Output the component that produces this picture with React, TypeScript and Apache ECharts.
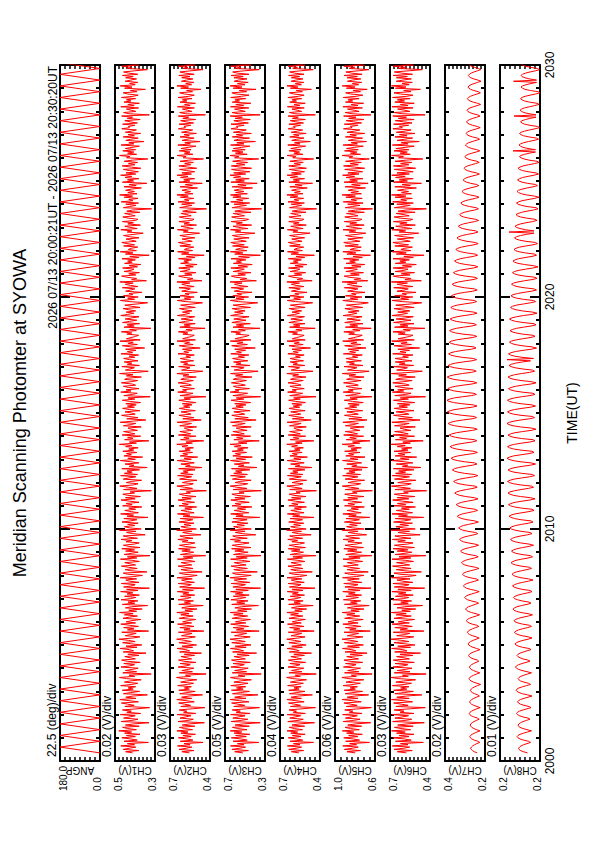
import React, { useEffect, useRef } from "react";
import * as echarts from "echarts";

// ---------- texts ----------
const titleText = "Meridian Scanning Photomter at SYOWA";
const periodText = "2026 07/13 20:00:21UT - 2026 07/13 20:30:20UT";
const timeAxisName = "TIME(UT)";
const timeTickLabels = ["2000", "2010", "2020", "2030"];
const channelNames = ["ANGP", "CH1(V)", "CH2(V)", "CH3(V)", "CH4(V)", "CH5(V)", "CH6(V)", "CH7(V)", "CH8(V)"];
const scaleLabels = [
  "22.5 (deg)/div", "0.02 (V)/div", "0.03 (V)/div", "0.05 (V)/div", "0.04 (V)/div",
  "0.06 (V)/div", "0.03 (V)/div", "0.02 (V)/div", "0.01 (V)/div",
];
const maxLabels = ["180.0", "0.5", "0.7", "0.7", "0.7", "1.0", "0.7", "0.4", "0.2"];
const minLabels = ["0.0", "0.3", "0.4", "0.3", "0.4", "0.6", "0.4", "0.2", "0.2"];

// ---------- value axes ----------
const axisMin = [0, 0.3, 0.42, 0.3, 0.4, 0.6, 0.42, 0.2, 0.16];
const axisMax = [180, 0.5, 0.72, 0.7, 0.72, 1.02, 0.72, 0.4, 0.24];
const axisDiv = [22.5, 0.02, 0.03, 0.05, 0.04, 0.06, 0.03, 0.02, 0.01];

// time axis (seconds after 20:00:00 UT)
const timeMin = 0;
const timeMax = 1800;
const timeMajor = 600;

// ---------- data ----------
// scan angle turning points (s after 20:00:00, deg)
const angpTimes = [
  21, 36, 51, 66, 81, 96, 111, 126, 141, 156, 171, 186, 201, 216, 231, 246, 261, 276, 291, 306,
  321, 336, 351, 366, 381, 396, 411, 426, 441, 456, 471, 486, 501, 516, 531, 546, 561, 576, 591, 606,
  621, 636, 651, 666, 681, 696, 711, 726, 741, 756, 771, 786, 801, 816, 831, 846, 861, 876, 891, 906,
  921, 936, 951, 966, 981, 996, 1011, 1026, 1041, 1056, 1071, 1086, 1101, 1116, 1131, 1146, 1161, 1176, 1191, 1206,
  1221, 1236, 1251, 1266, 1281, 1296, 1311, 1326, 1341, 1356, 1371, 1386, 1401, 1416, 1431, 1446, 1461, 1476, 1491, 1506,
  1521, 1536, 1551, 1566, 1581, 1596, 1611, 1626, 1641, 1656, 1671, 1686, 1701, 1716, 1731, 1746, 1761, 1776, 1791, 1806,
  1821,
];
const angpValues = [
  0, 180, 0, 180, 0, 180, 0, 180, 0, 180, 0, 180, 0, 180, 0, 180, 0, 180, 0, 180,
  0, 180, 0, 180, 0, 180, 0, 180, 0, 180, 0, 180, 0, 180, 0, 180, 0, 180, 0, 180,
  0, 180, 0, 180, 0, 180, 0, 180, 0, 180, 0, 180, 0, 180, 0, 180, 0, 180, 0, 180,
  0, 180, 0, 180, 0, 180, 0, 180, 0, 180, 0, 180, 0, 180, 0, 180, 0, 180, 0, 180,
  0, 180, 0, 180, 0, 180, 0, 180, 0, 180, 0, 180, 0, 180, 0, 180, 0, 180, 0, 180,
  0, 180, 0, 180, 0, 180, 0, 180, 0, 180, 0, 180, 0, 180, 0, 180, 0, 180, 0, 180,
  0,
];

// photometer channels, mV; first sample at SAMPLE_START s, then one every SAMPLE_STEP s
const SAMPLE_START = 21;
const SAMPLE_STEP = 3;

const ch1 = [
  412,447,381,459,428,396,471,402,438,333,455,389,421,466,398,443,375,452,417,481,
  393,436,462,379,448,407,330,469,414,385,457,426,399,474,372,441,418,463,390,327,
  451,404,437,468,383,429,476,395,446,410,338,458,421,377,464,409,435,397,472,416,
  386,453,425,369,442,478,401,430,319,461,392,448,413,384,470,427,402,456,374,439,
  467,398,424,451,381,436,345,459,407,428,475,390,445,366,418,462,399,433,480,412,
  376,449,421,394,466,332,438,405,457,383,426,471,397,444,415,371,460,429,388,453,
  409,477,392,431,364,448,418,337,463,401,435,386,469,423,396,452,378,440,411,472,
  385,442,328,457,415,399,468,380,427,446,392,474,406,363,437,459,341,421,450,389,
  433,468,397,425,451,378,414,473,391,438,325,455,419,384,447,402,466,375,430,458,
  404,379,445,416,470,388,432,459,349,411,442,396,478,369,428,453,401,437,384,465,
  422,391,456,335,440,407,472,383,419,451,397,431,366,462,414,445,380,427,470,399,
  448,373,436,461,402,425,318,457,390,433,476,408,385,444,419,367,459,431,396,472,
  387,453,414,440,377,466,339,429,405,450,381,422,474,398,436,362,455,418,443,391,
  461,406,431,384,447,415,478,393,428,331,452,410,437,372,464,401,426,457,388,419,
  435,369,458,423,396,474,408,346,441,385,432,467,399,418,450,376,429,462,403,438,
  394,446,372,427,463,401,435,324,456,413,389,471,420,445,380,432,458,397,414,468,
  419,387,452,436,368,443,410,477,391,334,448,425,403,466,378,439,416,454,385,427,
  457,401,429,382,470,412,438,395,447,352,421,463,388,434,409,475,374,443,420,398,
  382,441,416,468,393,427,321,455,404,439,377,462,428,391,449,415,380,471,436,406,
  444,397,431,460,375,418,451,389,337,426,473,402,437,384,458,411,430,366,447,423,
  401,463,386,422,449,409,476,343,417,392,440,467,396,431,378,455,420,405,462,388,
  429,371,452,414,437,398,465,381,426,329,448,410,474,393,433,418,386,457,402,440,
  466,394,418,445,380,428,457,406,359,439,415,471,389,424,451,373,436,408,463,397,
  386,434,461,399,423,452,376,441,413,317,458,427,395,446,382,469,411,431,385,454,
  412,477,390,436,403,447,420,368,455,394,429,341,463,407,438,381,450,416,472,396,
  445,383,428,458,371,419,464,400,433,387,454,413,336,442,425,477,392,437,406,461,
  397,449,415,378,470,406,431,355,446,421,384,459,403,435,372,448,418,393,466,427,
  433,401,462,388,425,451,374,439,412,467,328,430,457,396,419,443,382,471,404,436,
  378,455,420,443,397,468,410,384,436,459,391,423,348,452,415,474,399,427,386,449,
  421,392,447,409,463,386,432,457,401,338,440,418,466,380,429,451,407,435,393,460,
];
const ch2 = [
  574,631,540,652,597,556,664,569,615,472,643,548,590,657,561,623,529,638,585,668,
  551,612,649,534,628,571,462,660,582,545,645,602,563,666,527,618,594,651,553,458,
  639,566,610,655,538,600,669,557,633,578,476,647,592,531,654,575,612,560,662,589,
  543,640,596,519,620,671,565,604,449,650,552,631,583,541,659,599,568,644,526,617,
  656,558,595,637,536,613,484,648,573,601,667,550,629,521,588,653,560,607,670,581,
  530,634,590,555,657,466,615,569,646,540,598,663,558,625,584,527,651,604,546,639,
  577,669,551,608,518,632,590,471,654,566,612,544,660,596,562,641,535,624,579,665,
  545,626,461,648,586,560,658,537,601,633,553,667,570,516,617,650,479,591,637,547,
  611,659,557,597,636,533,584,664,549,620,453,642,588,542,631,568,656,528,606,649,
  572,534,628,585,661,548,614,646,488,579,625,556,670,522,600,638,563,615,540,653,
  593,549,643,469,622,571,664,539,589,636,557,609,520,652,583,629,536,603,660,561,
  630,525,612,650,566,598,447,645,551,611,668,574,545,627,590,518,648,606,558,663,
  547,640,584,621,532,655,480,604,569,638,538,594,666,560,614,512,643,588,624,551,
  651,568,608,544,630,586,669,552,601,467,641,577,616,526,657,565,599,646,550,592,
  613,521,647,596,559,666,575,486,624,541,607,653,562,588,637,530,603,650,571,618,
  555,628,527,602,654,566,615,451,645,584,548,662,596,626,537,607,644,560,583,659,
  596,545,639,614,523,622,578,668,552,474,633,597,570,655,533,618,587,641,543,605,
  642,566,601,538,660,581,616,557,627,494,599,651,546,610,573,667,529,625,595,558,
  538,623,586,657,554,599,457,646,568,615,531,652,604,549,636,581,535,664,608,572,
  627,556,611,649,530,590,640,548,476,601,665,563,613,539,645,577,606,515,632,594,
  567,652,539,596,632,571,668,481,589,549,619,655,555,610,526,643,592,569,654,545,
  604,517,640,581,616,558,656,534,597,464,634,578,663,551,612,588,541,646,566,622,
  657,553,588,629,534,602,646,569,498,620,583,664,545,597,637,521,615,574,653,557,
  540,613,650,561,594,638,523,625,580,446,647,601,555,633,536,659,578,611,542,642,
  583,668,548,609,566,630,590,513,644,552,605,478,652,571,617,535,641,585,666,559,
  631,535,597,648,520,587,653,565,610,545,644,578,469,621,599,667,548,612,570,650,
  562,637,584,526,661,567,609,495,629,592,539,645,575,615,522,633,586,550,657,603,
  615,564,652,543,599,640,528,624,580,658,455,605,647,556,588,627,537,664,569,611,
  529,645,593,627,555,660,579,538,612,648,551,596,487,640,581,668,558,602,541,634,
  598,548,632,570,654,539,606,646,563,472,621,585,657,530,607,639,567,616,552,649,
];
const ch3 = [
  521,603,466,631,552,494,645,509,575,362,619,478,540,637,487,594,452,610,533,648,
  481,573,626,457,600,515,348,640,538,472,622,563,499,644,449,590,547,628,486,355,
  612,503,571,634,461,556,649,490,603,526,371,625,544,455,636,518,585,493,642,537,
  470,611,549,436,593,647,501,568,338,628,485,604,530,468,641,557,507,620,447,582,
  635,496,552,609,458,579,384,624,514,561,646,488,598,440,535,632,497,566,650,524,
  448,605,541,483,638,359,586,511,619,464,550,643,492,596,529,445,627,569,474,613,
  519,648,480,574,435,601,536,366,633,502,583,470,640,555,491,617,459,597,523,645,
  467,592,345,621,546,495,637,453,570,608,484,649,527,438,589,625,377,542,612,476,
  579,639,489,559,607,450,532,644,478,588,341,615,548,469,601,512,634,441,571,627,
  525,460,604,545,647,477,586,623,392,528,597,499,650,437,562,614,505,580,471,631,
  553,479,618,353,591,518,643,462,538,609,494,576,432,630,543,598,458,565,641,500,
  601,446,583,631,509,560,336,620,481,582,648,526,473,599,551,439,626,572,496,644,
  476,613,532,594,452,635,380,567,510,607,456,551,646,493,589,427,622,545,597,484,
  629,516,575,469,606,540,649,480,566,358,611,520,584,444,638,507,555,621,479,548,
  588,438,625,557,498,645,529,389,602,467,571,632,503,547,612,449,564,627,517,590,
  491,603,443,566,639,512,587,343,621,536,474,648,560,600,455,577,616,497,544,636,
  557,486,619,581,430,595,523,645,478,369,609,552,509,637,451,591,540,614,472,568,
  624,505,567,462,642,536,584,494,603,397,559,633,476,578,521,647,441,599,556,488,
  459,592,545,640,497,564,351,620,514,587,447,631,569,490,612,538,460,644,580,519,
  604,499,576,628,445,550,619,483,373,566,646,511,590,464,622,534,581,431,607,561,
  513,638,471,561,606,529,649,386,549,482,595,636,496,571,441,617,552,507,641,475,
  569,428,616,535,586,492,640,456,564,346,603,521,647,481,593,548,468,624,507,598,
  642,487,547,612,459,578,626,518,402,597,541,645,470,563,620,434,587,526,639,497,
  464,583,633,505,558,618,440,601,531,334,627,566,486,610,453,643,522,584,463,621,
  540,646,476,594,512,608,555,425,628,489,572,378,641,506,593,458,615,544,650,493,
  613,451,573,635,435,548,637,501,586,474,624,539,363,604,560,647,478,596,520,630,
  498,619,533,452,644,510,582,396,610,565,455,627,524,588,437,616,543,487,639,571,
  585,509,640,466,562,612,447,599,527,648,349,569,630,497,551,604,462,645,513,592,
  442,627,555,601,493,643,536,460,589,631,484,558,390,618,530,649,500,575,468,608,
  566,480,610,518,639,461,578,623,507,357,600,545,642,439,587,621,515,594,482,634,
];
const ch4 = [
  569,629,531,650,591,547,661,560,612,452,640,538,585,654,553,621,519,634,579,664,
  540,606,646,523,624,564,444,658,576,534,642,598,555,663,517,614,588,648,544,436,
  636,556,604,652,527,593,665,549,631,571,461,644,586,520,650,567,608,551,659,582,
  533,637,590,508,617,667,557,598,430,647,545,628,577,530,656,594,560,641,515,611,
  653,548,589,633,525,609,468,645,566,596,664,541,626,511,581,649,552,603,666,575,
  519,631,584,546,654,447,611,562,643,529,592,660,550,622,578,517,648,600,537,635,
  572,665,542,602,507,628,583,455,651,557,608,535,657,591,554,638,524,621,573,662,
  536,623,441,645,580,552,655,526,597,630,545,664,562,505,612,647,462,586,634,538,
  606,656,549,591,632,522,578,661,540,617,433,639,582,532,628,560,653,516,601,646,
  564,524,625,579,658,539,609,643,471,573,622,548,667,511,594,635,555,611,530,650,
  587,540,640,449,619,563,661,528,583,633,549,605,509,649,576,626,525,598,657,553,
  627,513,608,647,558,592,428,642,543,606,665,567,536,624,584,507,645,601,550,660,
  537,637,577,618,521,652,465,599,561,635,527,588,663,552,610,501,640,582,621,543,
  648,559,603,533,627,580,666,543,596,450,638,570,613,515,654,557,593,643,541,587,
  609,510,644,590,551,663,568,470,621,530,602,650,554,582,634,519,598,647,563,614,
  546,625,516,597,651,558,611,432,642,578,539,659,590,623,526,602,641,552,577,656,
  591,534,636,609,512,619,571,665,543,457,630,592,563,652,522,615,581,638,532,600,
  639,557,596,527,657,574,613,548,624,476,594,648,535,606,566,664,518,622,589,549,
  527,620,580,654,545,593,439,643,560,612,520,649,599,540,633,575,524,661,603,564,
  624,547,606,646,519,584,637,538,459,596,662,555,610,528,642,571,601,504,629,588,
  558,649,528,591,629,564,665,463,583,539,616,652,546,605,515,640,586,561,651,535,
  600,506,637,575,613,549,653,523,592,445,631,572,660,541,608,583,530,643,558,619,
  654,544,582,626,523,597,643,561,481,617,577,661,535,592,634,510,612,567,650,548,
  529,610,647,552,588,635,512,622,574,427,644,596,546,630,525,656,572,606,531,639,
  577,665,537,604,558,627,585,502,641,543,600,460,649,564,614,524,638,580,663,550,
  628,524,592,645,509,581,650,556,607,534,641,573,451,618,594,664,537,609,563,647,
  553,634,579,515,658,560,604,477,626,587,528,642,568,612,511,630,581,539,654,598,
  612,555,649,532,594,637,517,621,574,655,437,600,644,547,583,624,526,661,561,608,
  518,642,588,624,546,657,573,527,609,645,541,591,469,637,576,665,549,597,530,631,
  594,537,629,563,651,528,603,643,555,454,618,580,654,519,604,636,559,613,542,646,
];
const ch5 = [
  807,894,752,922,838,776,938,793,866,658,908,762,830,928,781,877,733,898,822,943,
  765,859,915,740,886,801,645,934,826,757,911,848,786,940,736,870,833,918,769,638,
  901,787,855,926,745,842,945,779,892,811,667,913,832,730,924,806,861,784,936,828,
  753,905,838,718,874,947,795,848,630,920,770,887,816,752,931,844,799,909,729,865,
  926,772,836,897,733,861,683,914,802,843,942,764,889,722,820,922,779,852,946,814,
  727,892,829,771,925,650,867,798,910,748,834,937,777,883,818,724,919,851,760,896,
  811,944,765,853,716,890,826,661,921,787,857,750,932,840,773,905,741,879,808,938,
  757,882,642,916,819,779,928,739,844,888,765,940,795,718,866,918,671,828,893,762,
  864,931,775,838,891,730,815,936,756,875,634,907,822,741,888,790,927,721,851,915,
  799,738,884,818,935,762,863,908,688,805,880,778,947,713,839,898,786,867,747,921,
  831,764,904,655,876,796,937,745,820,893,774,850,712,920,815,884,740,845,932,782,
  886,717,857,918,788,837,628,911,770,855,944,801,750,882,827,709,914,846,780,939,
  752,899,810,873,736,925,679,844,791,896,741,829,940,778,861,705,907,824,878,759,
  919,789,852,744,884,816,945,760,836,653,902,797,865,720,929,783,833,912,758,820,
  860,714,911,834,774,937,800,685,874,740,845,921,776,822,895,729,840,917,792,868,
  766,883,723,838,923,786,862,633,908,812,753,934,829,880,737,846,904,775,817,930,
  832,746,898,863,715,872,803,944,762,662,889,833,790,925,727,869,816,901,743,842,
  905,782,837,734,932,805,866,771,883,694,831,919,748,853,791,939,720,879,826,768,
  734,876,815,927,759,834,640,911,781,864,726,918,840,754,894,807,736,935,848,790,
  881,767,853,916,729,821,901,749,670,836,938,780,861,737,910,799,846,705,887,830,
  780,922,737,833,890,788,946,676,818,751,872,924,765,857,721,906,828,785,926,747,
  844,708,904,806,866,770,929,733,831,648,895,801,937,753,862,817,744,914,775,876,
  928,757,817,885,728,840,910,788,697,871,803,936,740,834,902,714,865,792,923,764,
  738,856,917,778,825,899,712,880,802,626,912,838,759,887,725,933,794,851,734,906,
  806,945,742,853,773,882,828,700,913,755,845,672,925,784,866,726,904,814,940,768,
  885,731,822,918,709,817,930,776,861,744,909,803,660,872,834,946,752,858,790,920,
  775,899,814,723,935,784,849,690,880,829,731,911,796,863,708,893,816,759,931,840,
  858,778,923,741,826,902,717,876,800,929,643,842,913,767,818,889,732,937,781,851,
  720,910,834,884,767,933,799,728,855,908,752,829,682,901,809,944,772,838,739,890,
  838,749,893,785,926,736,847,906,775,663,871,812,927,712,846,897,781,860,761,916,
];
const ch6 = [
  597,665,553,690,618,572,703,585,641,470,679,561,612,695,578,651,540,671,606,708,
  566,638,687,546,662,592,463,700,603,557,683,628,581,706,541,645,615,689,569,455,
  676,584,635,693,551,622,709,576,669,597,481,684,613,545,692,594,640,578,702,609,
  559,676,617,528,654,711,583,627,449,688,570,665,604,555,698,622,586,682,538,643,
  695,574,616,671,549,645,491,685,593,624,708,566,662,533,607,690,579,633,712,600,
  542,670,611,571,696,466,644,589,684,553,620,704,575,658,605,536,689,628,561,674,
  598,710,567,632,527,667,610,476,693,583,639,558,700,619,580,679,546,657,600,706,
  561,661,460,688,607,577,698,549,625,668,570,709,588,524,646,690,485,614,673,562,
  636,701,573,619,671,544,604,705,564,653,451,680,609,556,666,586,696,537,631,687,
  590,547,662,605,702,563,641,683,494,599,660,573,712,531,622,676,581,646,552,693,
  613,565,681,468,656,589,705,551,609,672,575,634,529,690,602,664,547,626,700,579,
  666,534,640,688,583,618,445,683,567,637,709,593,561,662,611,526,686,630,574,703,
  558,678,603,655,541,694,488,627,587,673,549,614,707,577,642,520,681,608,658,566,
  690,585,633,555,665,606,711,567,624,471,679,596,648,536,697,583,620,685,563,613,
  645,530,686,618,576,706,594,495,657,552,630,693,579,609,674,540,626,688,589,652,
  571,664,535,626,694,582,643,453,684,604,562,702,617,662,547,631,682,576,603,699,
  619,554,677,639,531,655,597,709,567,478,670,620,589,696,543,651,607,680,555,628,
  682,582,625,548,700,600,645,573,661,498,621,690,559,637,591,707,538,659,616,572,
  548,658,606,697,568,620,459,686,585,644,540,693,627,563,674,601,545,704,632,588,
  662,571,636,690,539,610,677,560,482,624,705,580,640,549,685,597,629,525,668,614,
  583,692,549,617,667,589,710,485,608,562,650,695,570,635,536,681,613,585,696,558,
  627,523,680,601,646,574,697,545,616,466,673,598,703,564,638,609,552,684,581,657,
  698,568,606,665,543,621,686,586,505,652,603,706,556,619,677,530,647,592,694,572,
  550,644,689,576,613,675,532,660,599,447,687,624,568,669,545,700,596,639,553,682,
  601,709,559,633,581,664,610,522,684,567,629,484,693,589,651,546,678,606,707,575,
  668,546,615,687,528,605,694,579,640,557,682,598,474,656,619,708,568,645,590,690,
  578,676,602,538,702,584,636,501,667,612,550,683,592,649,533,672,606,562,698,627,
  650,580,693,555,618,680,539,658,596,699,457,628,688,571,608,663,547,705,585,642,
  538,684,611,665,569,701,594,548,641,690,563,617,492,679,600,709,576,630,553,673,
  623,560,672,590,696,551,633,687,578,477,657,604,698,541,636,679,586,647,565,692,
];
const ch7 = [
  239,253,263,269,272,268,262,252,241,226, 236,254,266,273,276,272,264,253,240,225,
  242,256,266,271,274,271,264,255,243,229, 238,256,269,276,279,275,267,255,241,224,
  240,257,268,274,277,273,266,256,243,228, 236,252,264,270,273,269,262,251,238,222,
  240,257,270,277,280,276,268,256,242,226, 243,258,269,275,278,274,268,257,245,231,
  238,258,271,279,282,278,270,257,242,225, 242,260,273,281,284,280,272,259,244,229,
  244,263,277,284,288,283,275,262,247,231, 241,264,280,289,293,288,278,262,244,227,
  245,268,284,293,297,292,282,266,249,232, 243,269,287,297,302,296,285,267,247,229,
  247,274,293,303,308,302,291,272,251,233, 244,275,296,307,313,306,293,272,249,230,
  248,279,301,312,318,311,298,277,253,234, 246,280,303,316,322,314,300,277,251,232,
  250,284,308,321,327,319,305,282,255,236, 247,285,311,325,332,323,308,282,253,233,
  251,290,316,331,338,329,313,287,257,237, 249,291,320,336,344,334,317,288,256,235,
  253,297,326,343,351,341,323,293,260,239, 250,298,330,348,357,346,327,294,258,236,
  254,303,335,354,363,352,332,299,262,240, 252,304,339,360,369,357,336,300,260,238,
  255,308,344,364,374,362,340,304,264,241, 253,309,347,369,379,366,343,305,262,239,
  256,313,352,374,384,371,348,309,265,242, 254,314,354,377,388,374,350,310,264,240,
  257,316,357,380,390,377,353,313,267,243, 255,313,353,375,386,373,349,310,265,241,
  258,316,356,378,389,376,352,313,268,244, 256,313,352,374,384,371,348,309,265,242,
  259,314,351,372,382,370,347,310,268,245, 255,310,348,369,379,367,344,306,264,241,
  257,310,347,367,377,365,343,307,266,243, 254,307,344,364,374,362,340,304,263,240,
  256,307,342,362,371,359,339,304,264,242, 253,304,339,359,368,356,336,301,261,239,
  252,302,336,355,364,353,332,298,260,238, 250,298,331,349,358,347,327,295,258,236,
  251,296,327,344,352,342,323,293,258,237, 248,292,321,338,346,336,318,289,255,234,
  249,290,317,333,340,331,314,287,255,235, 246,285,311,326,333,324,308,282,252,232,
  247,282,307,321,327,319,304,280,252,233, 244,278,302,315,321,313,299,276,249,230,
  245,276,297,309,315,308,295,274,250,231, 242,272,292,304,309,302,290,270,246,228,
  243,270,289,300,305,299,287,268,247,229, 240,267,285,296,301,295,284,265,244,226,
  241,266,283,293,298,292,282,264,245,227, 238,263,280,290,295,289,279,261,242,224,
  239,262,278,288,292,287,277,261,242,225, 236,260,276,286,290,285,275,258,239,222,
  237,259,275,284,288,283,273,258,240,223, 234,256,272,281,285,280,270,255,237,220,
  235,256,271,279,283,278,269,255,238,221, 233,254,269,277,281,276,267,253,236,219,
];
const ch8 = [
  185,193,199,202,203,201,198,193,186,179, 183,193,200,204,206,204,200,193,185,177,
  186,194,200,203,204,202,199,194,187,180, 184,194,201,205,207,205,201,194,186,178,
  182,192,199,203,205,203,199,192,184,176, 185,195,202,206,208,206,202,195,187,179,
  183,192,199,202,204,202,198,192,185,177, 186,196,203,207,209,207,203,196,188,180,
  184,194,200,204,206,204,200,193,186,178, 182,195,203,208,210,207,202,194,184,176,
  183,196,204,209,211,208,203,195,185,177, 181,195,204,210,212,209,203,194,183,175,
  184,198,207,212,214,211,206,197,186,178, 182,196,205,211,213,210,204,195,184,176,
  180,196,206,212,215,211,205,195,183,174, 183,198,208,213,216,213,207,197,186,177,
  181,198,209,215,218,214,208,197,184,175, 179,196,208,214,217,213,206,195,182,173,
  182,199,210,216,219,215,209,198,185,176, 180,198,210,217,220,216,209,197,183,174,
  178,198,211,218,222,218,210,196,182,172, 176,197,211,219,223,218,210,196,180,170,
  179,199,213,220,224,220,211,198,183,173, 177,199,213,221,225,220,212,197,181,171,
  175,197,212,220,224,219,210,196,179,169, 178,200,214,222,226,221,213,198,182,172,
  176,198,213,221,225,220,211,197,180,170, 174,197,212,220,224,219,210,195,178,168,
  177,199,214,222,226,221,212,198,181,171, 175,198,213,221,225,220,211,196,179,169,
  176,198,213,221,225,220,211,197,180,170, 174,196,211,219,223,218,209,195,178,168,
  177,198,212,220,224,219,211,197,181,171, 175,196,210,218,222,217,209,195,179,226,
  173,196,211,219,223,218,209,194,177,167, 176,196,210,217,221,217,208,195,180,170,
  174,195,208,216,220,215,207,193,178,168, 172,194,209,217,221,216,207,193,176,166,
  175,195,208,215,219,215,207,193,179,169, 173,193,207,214,218,214,205,192,177,167,
  172,192,206,213,217,213,204,191,176,166, 170,190,204,211,215,211,202,189,174,164,
  173,191,204,211,214,210,203,190,176,167, 171,189,202,209,212,208,201,188,174,165,
  169,188,201,208,211,207,199,187,172,222, 172,189,200,207,210,206,199,188,175,166,
  170,187,199,205,208,204,197,186,173,164, 168,186,197,204,207,203,196,184,171,162,
  171,187,197,203,206,203,196,186,174,165, 169,185,196,202,205,201,195,184,172,163,
  168,184,195,201,204,200,194,183,171,162, 166,182,192,198,201,198,191,181,169,214,
  169,184,194,199,202,199,193,183,172,163, 167,182,193,198,201,198,191,181,170,161,
  165,180,191,196,199,196,189,179,168,212, 168,182,192,197,200,197,191,181,171,162,
  166,181,191,196,199,196,190,180,169,160, 164,179,190,195,198,195,188,178,167,213,
  167,181,190,196,198,195,189,180,169,161, 165,179,189,195,197,194,188,178,168,159,
];
const channelValues = [ch1, ch2, ch3, ch4, ch5, ch6, ch7, ch8];

// ---------- layout ----------
const PANEL_LEFT = 60;
const PANEL_PITCH = 55;
const PANEL_WIDTH = 40;
const PANEL_TOP = 65;
const PANEL_HEIGHT = 696;
const FONT = '"Liberation Sans", Arial, Helvetica, sans-serif';
const RED = "#ff0000";

function textEl(x: number, y: number, rotation: number, text: string, size: number, align: string, vAlign = "middle") {
  return {
    type: "text",
    x,
    y,
    rotation,
    silent: true,
    style: {
      text,
      font: `${size}px ${FONT}`,
      fill: "#000",
      align,
      textAlign: align,
      verticalAlign: vAlign,
      textVerticalAlign: vAlign,
    },
  };
}

function buildOption() {
  const n = channelNames.length;
  const grid: any[] = [];
  const xAxis: any[] = [];
  const yAxis: any[] = [];
  const series: any[] = [];
  const graphic: any[] = [];

  for (let i = 0; i < n; i++) {
    const left = PANEL_LEFT + PANEL_PITCH * i;
    grid.push({ left, top: PANEL_TOP, width: PANEL_WIDTH, height: PANEL_HEIGHT, containLabel: false });

    for (const pos of ["bottom", "top"]) {
      xAxis.push({
        gridIndex: i,
        type: "value",
        position: pos,
        min: axisMin[i],
        max: axisMax[i],
        interval: axisDiv[i],
        inverse: true,
        axisLine: { show: true, onZero: false, lineStyle: { color: "#000", width: 2 } },
        axisTick: { show: true, inside: true, length: 4, lineStyle: { color: "#000", width: 1.5 } },
        axisLabel: { show: false },
        splitLine: { show: false },
      });
    }
    for (const pos of ["left", "right"]) {
      const showLabels = pos === "right" && i === n - 1;
      yAxis.push({
        gridIndex: i,
        type: "value",
        position: pos,
        min: timeMin,
        max: timeMax,
        interval: timeMajor,
        axisLine: { show: true, onZero: false, lineStyle: { color: "#000", width: 2 } },
        axisTick: { show: true, inside: true, length: 10, lineStyle: { color: "#000", width: 2 } },
        minorTick: { show: true, splitNumber: 10, length: 4, lineStyle: { color: "#000", width: 2 } },
        axisLabel: showLabels
          ? {
              show: true,
              rotate: 90,
              margin: 4,
              align: "center",
              verticalAlign: "top",
              color: "#000",
              fontSize: 12,
              fontFamily: FONT,
              formatter: (v: number) => timeTickLabels[Math.round((v - timeMin) / timeMajor)],
            }
          : { show: false },
        splitLine: { show: false },
        minorSplitLine: { show: false },
      });
    }

    const data =
      i === 0
        ? angpTimes.map((t, k) => [angpValues[k], t])
        : channelValues[i - 1].map((v, k) => [v / 1000, SAMPLE_START + SAMPLE_STEP * k]);
    series.push({
      type: "line",
      xAxisIndex: 2 * i,
      yAxisIndex: 2 * i,
      data,
      showSymbol: false,
      symbol: "none",
      clip: true,
      lineStyle: { color: RED, width: 1 },
      silent: true,
    });

    graphic.push(textEl(left - 8, 757, Math.PI / 2, scaleLabels[i], 12, "left"));
    graphic.push(textEl(left + PANEL_WIDTH / 2, 770, Math.PI, channelNames[i], 10, "center"));
    graphic.push(textEl(left + 3, 791, Math.PI / 2, maxLabels[i], 10, "left"));
    graphic.push(textEl(left + PANEL_WIDTH - 3, 791, Math.PI / 2, minLabels[i], 10, "left"));
  }

  graphic.push(textEl(20, 413, Math.PI / 2, titleText, 18, "center"));
  graphic.push(textEl(53, 66, Math.PI / 2, periodText, 12, "right"));
  graphic.push(textEl(572, 413, Math.PI / 2, timeAxisName, 14, "center"));

  return {
    animation: false,
    backgroundColor: "#ffffff",
    grid,
    xAxis,
    yAxis,
    series,
    graphic,
  };
}

export default function App() {
  const ref = useRef<HTMLDivElement>(null);
  useEffect(() => {
    if (!ref.current) return;
    const chart = echarts.init(ref.current, null, { renderer: "svg" });
    chart.setOption(buildOption());
    return () => chart.dispose();
  }, []);
  return (
    <div
      ref={ref}
      style={{ position: "absolute", left: 0, top: 0, width: 595, height: 842, background: "#fff" }}
    />
  );
}
